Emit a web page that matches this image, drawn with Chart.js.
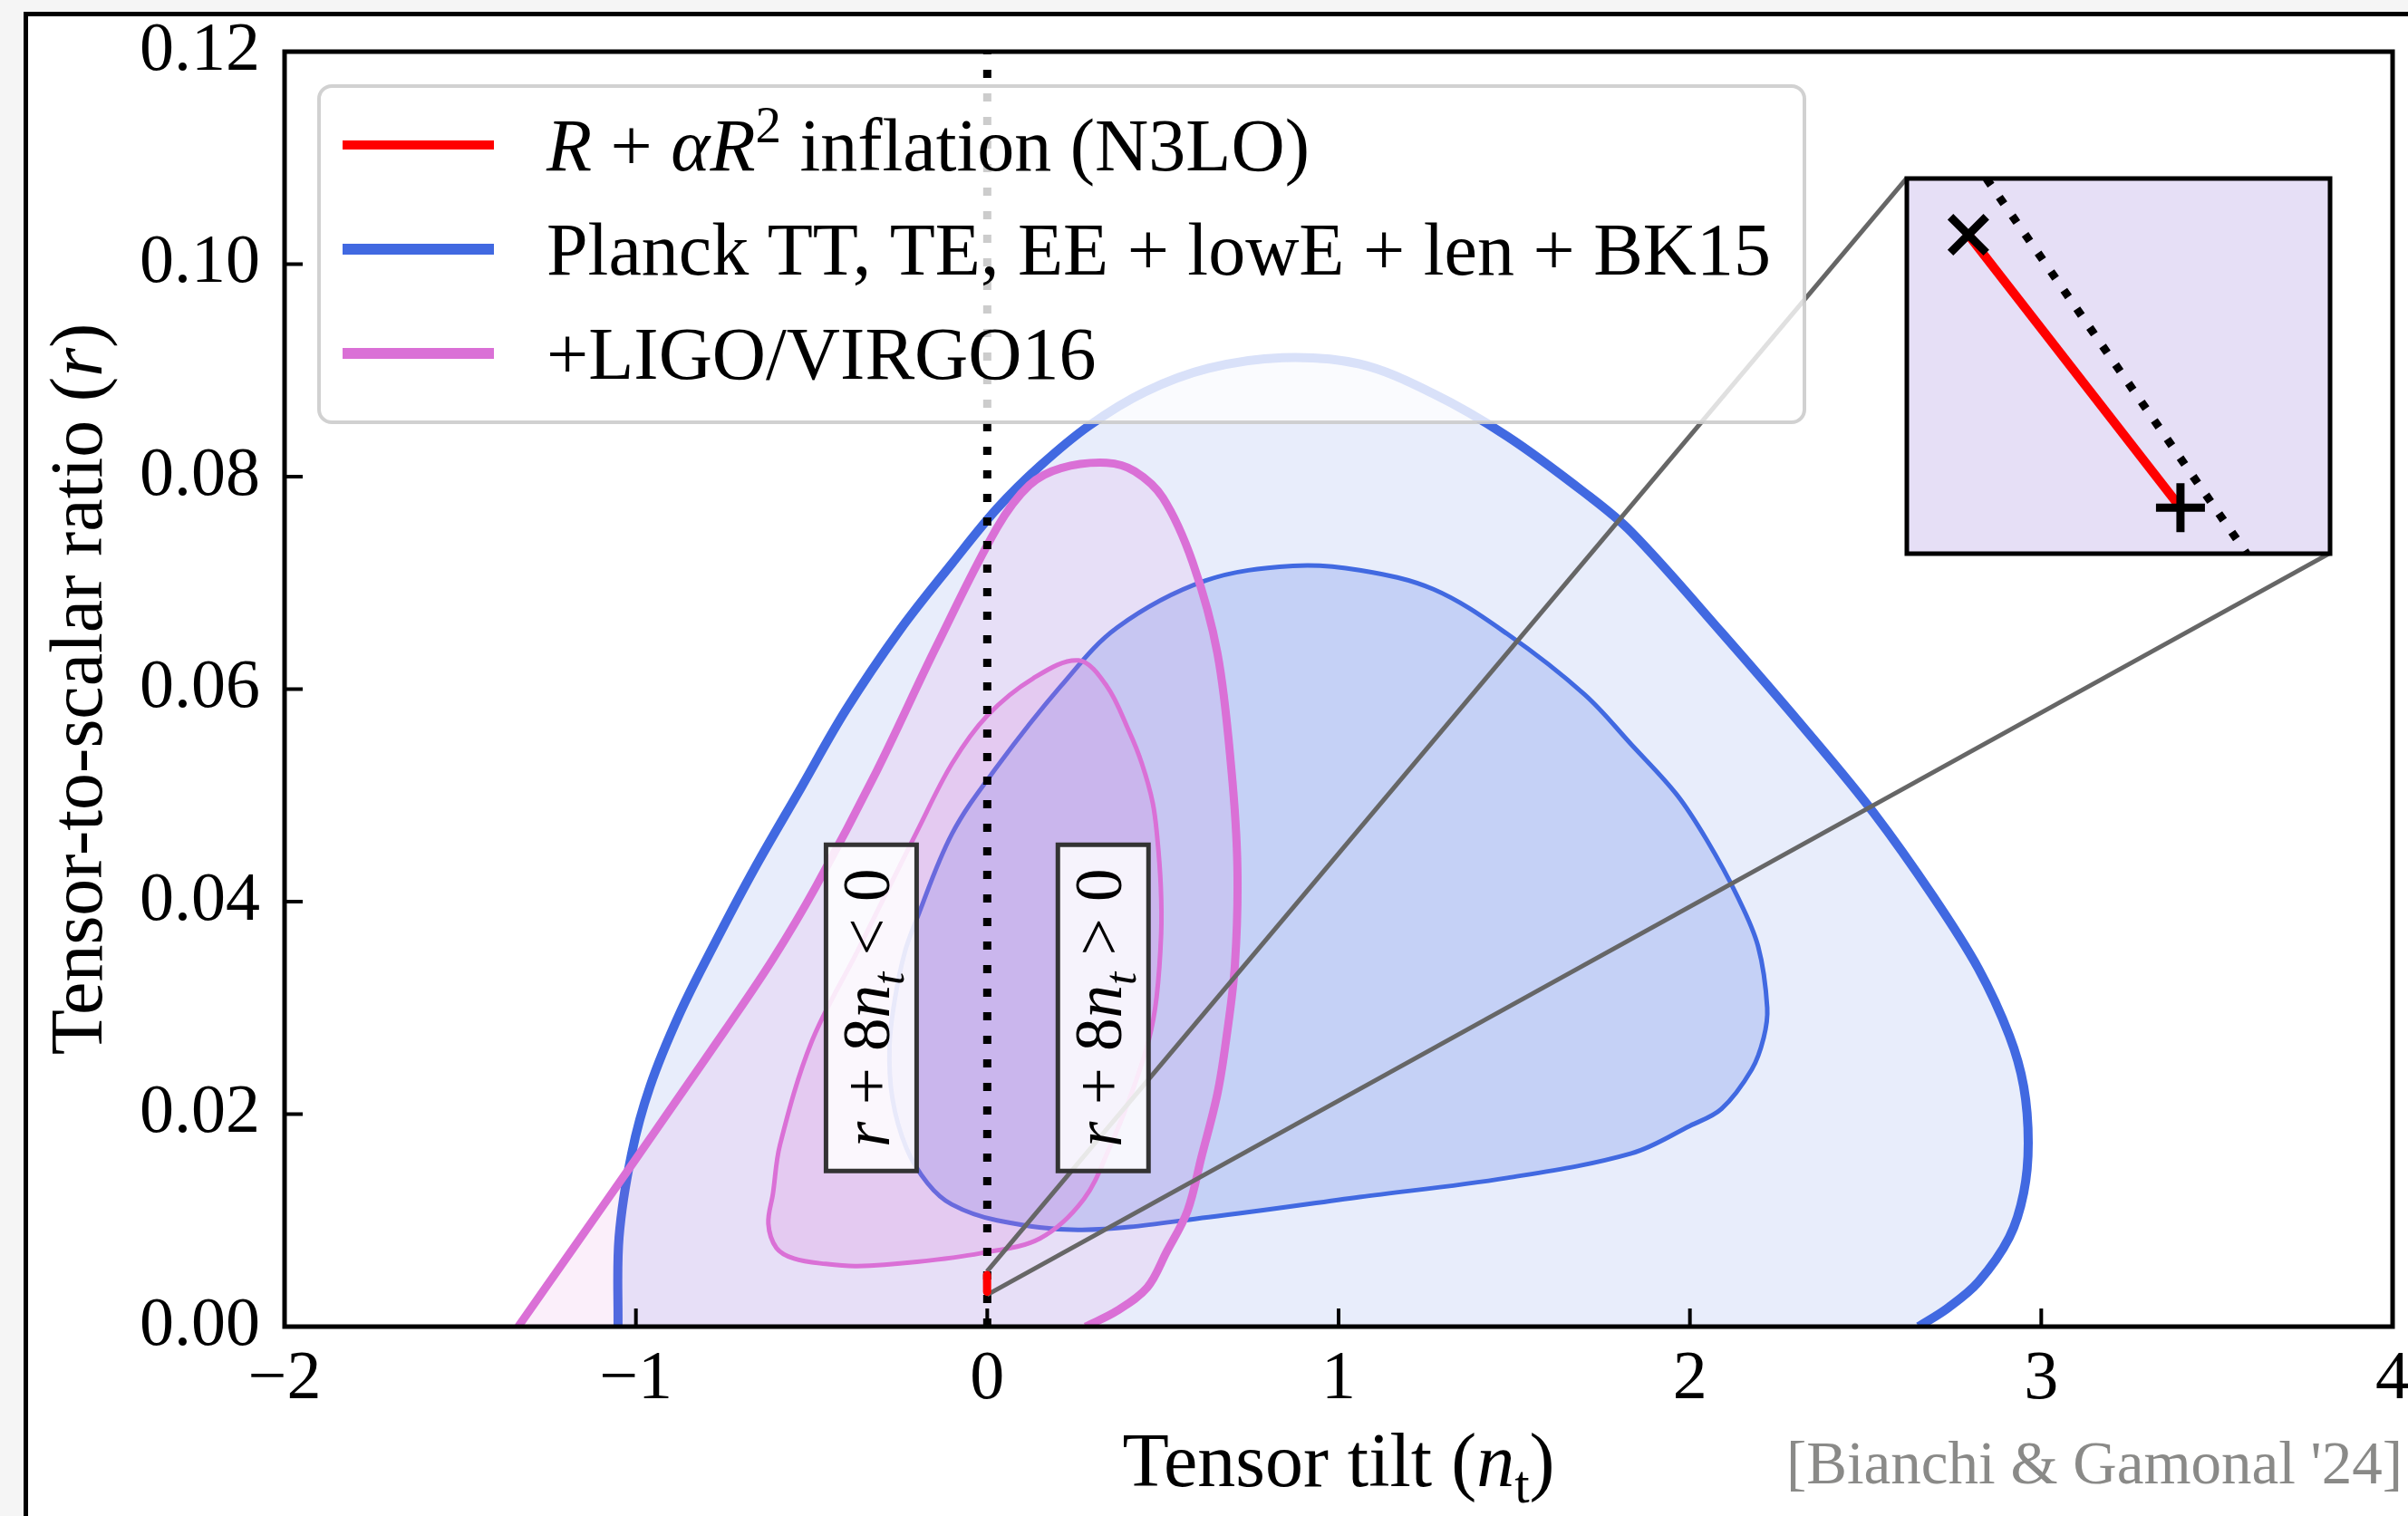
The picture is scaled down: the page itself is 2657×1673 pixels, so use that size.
<!DOCTYPE html>
<html>
<head>
<meta charset="utf-8">
<script src="https://cdn.jsdelivr.net/npm/chart.js@4.4.1/dist/chart.umd.min.js"></script>
<style>
  html, body { margin: 0; padding: 0; background: #f5f5f5; }
  #stage { position: relative; width: 2657px; height: 1673px; overflow: hidden; }
  #sheet { position: absolute; left: 26px; top: 13px; width: 2700px; height: 1700px;
           background: #fff; border-left: 5px solid #000; border-top: 5px solid #000; }
  #main { position: absolute; left: 0; top: 0; }
  #insetWrap { position: absolute; }
  #insetWrap canvas { display: block; }
</style>
</head>
<body>
<div id="stage">
  <div id="sheet"></div>
  <canvas id="main" width="2657" height="1673"></canvas>
  <div id="insetWrap"><canvas id="inset"></canvas></div>
</div>
<script>
const SERIF = '"Liberation Serif", "Times New Roman", serif';

// axis ticks
const xTicks = [-2, -1, 0, 1, 2, 3, 4];
const yTicks = [0, 0.02, 0.04, 0.06, 0.08, 0.10, 0.12];

// Planck TT,TE,EE+lowE+lensing+BK15, outer (95%) contour, cut at r = 0
const planckOuterNt = [-1.051, -1.048, -1.012, -0.96, -0.875, -0.772, -0.661, -0.532, -0.403, -0.25, -0.101, 0.028, 0.15, 0.29, 0.45, 0.63, 0.84, 1.06, 1.27, 1.48, 1.70, 1.833, 2.091, 2.349, 2.522, 2.692, 2.821, 2.909, 2.95, 2.963, 2.95, 2.909, 2.821, 2.736, 2.651];
const planckOuterR = [0, 0.0084, 0.0163, 0.0226, 0.0295, 0.0363, 0.0432, 0.0506, 0.0580, 0.0655, 0.0718, 0.0770, 0.0810, 0.0848, 0.0880, 0.0902, 0.0912, 0.0906, 0.0878, 0.0838, 0.0785, 0.0748, 0.0653, 0.0554, 0.0484, 0.0405, 0.0337, 0.0274, 0.0226, 0.0173, 0.0126, 0.0084, 0.0042, 0.0018, 0];

// Planck inner (68%) contour, closed
const planckInnerNt = [1.06, 0.63, 0.27, 0.028, -0.101, -0.17, -0.23, -0.27, -0.278, -0.262, -0.235, -0.205, -0.10, 0.028, 0.21, 0.37, 0.62, 0.87, 1.06, 1.27, 1.48, 1.70, 1.833, 1.962, 2.048, 2.135, 2.194, 2.22, 2.21, 2.176, 2.09, 2.0, 1.833, 1.48, 1.06];
const planckInnerR = [0.0122, 0.0103, 0.0091, 0.0100, 0.0115, 0.0135, 0.0168, 0.0215, 0.0265, 0.0310, 0.0352, 0.0380, 0.0464, 0.0527, 0.0603, 0.0658, 0.0702, 0.0716, 0.0712, 0.0694, 0.0652, 0.0595, 0.0548, 0.0501, 0.0458, 0.0405, 0.0358, 0.0300, 0.0272, 0.0242, 0.0205, 0.0189, 0.0163, 0.0140, 0.0122];

// + LIGO/VIRGO16, outer contour, cut at r = 0
const ligoOuterNt = [-1.335, -1.18, -1.004, -0.88, -0.746, -0.61, -0.488, -0.316, -0.145, 0.028, 0.12, 0.21, 0.34, 0.42, 0.50, 0.585, 0.655, 0.695, 0.712, 0.705, 0.68, 0.655, 0.61, 0.57, 0.51, 0.456, 0.37, 0.28];
const ligoOuterR = [0, 0.0073, 0.0156, 0.0215, 0.0279, 0.0346, 0.0414, 0.0522, 0.0640, 0.0752, 0.0792, 0.0808, 0.0813, 0.0805, 0.0780, 0.0719, 0.0634, 0.0524, 0.0432, 0.0341, 0.0270, 0.0219, 0.0160, 0.0109, 0.0070, 0.0037, 0.0015, 0];

// + LIGO/VIRGO16, inner contour, closed
const ligoInnerNt = [-0.37, -0.50, -0.59, -0.61, -0.623, -0.60, -0.55, -0.46, -0.37, -0.20, -0.02, 0.15, 0.275, 0.35, 0.41, 0.46, 0.482, 0.495, 0.494, 0.484, 0.471, 0.44, 0.404, 0.34, 0.26, 0.13, 0.0, -0.10, -0.20, -0.37];
const ligoInnerR = [0.0353, 0.0268, 0.0171, 0.0125, 0.0097, 0.0074, 0.0064, 0.0059, 0.0057, 0.0061, 0.0069, 0.0083, 0.0120, 0.0170, 0.0219, 0.0270, 0.0310, 0.0370, 0.0414, 0.0460, 0.0493, 0.0530, 0.0560, 0.0603, 0.0627, 0.0610, 0.0575, 0.0530, 0.0466, 0.0353];

// R + alpha R^2 (N3LO) prediction, end points
const modelNt = [-0.000669, -0.000445];
const modelR = [0.00487, 0.00327];

// r + 8 n_t = 0 across the zoomed window
const consistNt = [-0.00065, -0.000375];
const consistR = [0.0052, 0.0030];

const legendLabels = ['R + \u03b1R\u00b2 inflation (N3LO)', 'Planck TT, TE, EE + lowE + len + BK15', '+LIGO/VIRGO16'];

// layout: zoomed window, and where the inset sits (in main-axis units)
const zoomWin = { x0: -0.000734, x1: -0.000287, y0: 0.0030, y1: 0.0052 };
const insetAt = { x0: 2.617, x1: 3.822, y0: 0.0728, y1: 0.1081 };

const BLUE = '#4169e1', ORCHID = '#da70d6', RED = '#ff0000';
const fills = {
    blueOuter: 'rgba(65,105,225,0.12)',
    blueInner: 'rgba(65,105,225,0.21)',
    pinkOuter: 'rgba(218,112,214,0.11)',
    pinkInner: 'rgba(218,112,214,0.18)'
};

const pts = (xs, ys) => xs.map((x, i) => ({ x, y: ys[i] }));

const contour = (label, xs, ys, color, width, fill, order) => ({
    label,
    data: pts(xs, ys),
    borderColor: color,
    borderWidth: width,
    borderJoinStyle: 'round',
    fillShape: fill,
    fill: false,
    tension: 0.35,
    pointRadius: 0,
    order
});

// ---- rich text (italic / sub / sup pieces) ----
const fontOf = (size, italic) => (italic ? 'italic ' : '') + size + 'px ' + SERIF;

function richLayout(ctx, parts, size) {
    let w = 0;
    const items = parts.map(([text, style = '']) => {
        const small = style.includes('sub') || style.includes('sup');
        ctx.font = fontOf(small ? Math.round(size * 0.7) : size, style.startsWith('i'));
        const dy = style.includes('sub') ? size * 0.22 : style.includes('sup') ? -size * 0.38 : 0;
        const item = { text, font: ctx.font, x: w, dy };
        w += ctx.measureText(text).width;
        return item;
    });
    return { items, width: w };
}

function drawRich(ctx, parts, x, y, size, align) {
    const { items, width } = richLayout(ctx, parts, size);
    const x0 = align === 'center' ? x - width / 2 : align === 'right' ? x - width : x;
    ctx.textAlign = 'left';
    ctx.textBaseline = 'alphabetic';
    items.forEach(it => {
        ctx.font = it.font;
        ctx.fillText(it.text, x0 + it.x, y + it.dy);
    });
}

const legendParts = [
    [['R', 'i'], [' + '], ['\u03b1', 'i'], ['R', 'i'], ['2', 'sup'], [' inflation (N3LO)']],
    [['Planck TT, TE, EE + lowE + len + BK15']],
    [['+LIGO/VIRGO16']]
];
const xTitle = [['Tensor tilt ('], ['n', 'i'], ['t', 'sub'], [')']];
const yTitle = [['Tensor-to-scalar ratio ('], ['r', 'i'], [')']];
const boxTexts = [
    { x: -0.33, y: 0.03, parts: [['r', 'i'], [' + 8'], ['n', 'i'], ['t', 'isub'], [' < 0']] },
    { x: 0.33, y: 0.03, parts: [['r', 'i'], [' + 8'], ['n', 'i'], ['t', 'isub'], [' > 0']] }
];

// fill each contour with its own path before its line is stroked
const shapeFill = {
    id: 'shapeFill',
    beforeDatasetDraw(chart, args) {
        const ds = chart.data.datasets[args.index];
        if (!ds.fillShape) return;
        const line = args.meta.dataset;
        const { ctx, chartArea: a } = chart;
        if (line.updateControlPoints) line.updateControlPoints(a, 'x');
        ctx.save();
        ctx.beginPath();
        ctx.rect(a.left, a.top, a.width, a.height);
        ctx.clip();
        ctx.beginPath();
        line.path(ctx);
        ctx.closePath();
        ctx.fillStyle = ds.fillShape;
        ctx.fill();
        ctx.restore();
    }
};

const decor = {
    id: 'decor',
    afterDatasetsDraw(chart) {
        const { ctx, chartArea: a, scales: { x, y } } = chart;
        ctx.save();

        // inward ticks and frame
        ctx.strokeStyle = '#000';
        ctx.lineWidth = 4;
        ctx.beginPath();
        x.ticks.forEach(t => {
            const px = x.getPixelForValue(t.value);
            ctx.moveTo(px, a.bottom);
            ctx.lineTo(px, a.bottom - 20);
        });
        y.ticks.forEach(t => {
            const py = y.getPixelForValue(t.value);
            ctx.moveTo(a.left, py);
            ctx.lineTo(a.left + 20, py);
        });
        ctx.stroke();
        ctx.lineWidth = 5;
        ctx.strokeRect(a.left, a.top, a.width, a.height);

        // rotated boxed labels
        boxTexts.forEach(b => {
            ctx.save();
            ctx.translate(x.getPixelForValue(b.x), y.getPixelForValue(b.y));
            ctx.rotate(-Math.PI / 2);
            ctx.fillStyle = 'rgba(255,255,255,0.85)';
            ctx.fillRect(-180, -50, 360, 100);
            ctx.strokeStyle = '#333';
            ctx.lineWidth = 5;
            ctx.strokeRect(-180, -50, 360, 100);
            ctx.fillStyle = '#000';
            drawRich(ctx, b.parts, 0, 20, 73, 'center');
            ctx.restore();
        });

        // legend
        const lx = a.left + 38, ly = a.top + 38, lw = 1639, lh = 371;
        ctx.beginPath();
        ctx.roundRect(lx, ly, lw, lh, 14);
        ctx.fillStyle = 'rgba(255,255,255,0.8)';
        ctx.fill();
        ctx.strokeStyle = 'rgba(204,204,204,0.9)';
        ctx.lineWidth = 4;
        ctx.stroke();
        const rows = [
            { color: RED, width: 10 },
            { color: BLUE, width: 12 },
            { color: ORCHID, width: 12 }
        ];
        rows.forEach((row, i) => {
            const cy = ly + 65 + i * 115;
            ctx.strokeStyle = row.color;
            ctx.lineWidth = row.width;
            ctx.beginPath();
            ctx.moveTo(lx + 26, cy);
            ctx.lineTo(lx + 193, cy);
            ctx.stroke();
            ctx.fillStyle = '#000';
            drawRich(ctx, legendParts[i], lx + 251, cy + 28, 82, 'left');
        });
        ctx.restore();
    },
    afterDraw(chart) {
        const { ctx, chartArea: a } = chart;
        ctx.save();
        ctx.fillStyle = '#000';
        drawRich(ctx, xTitle, (a.left + a.right) / 2, 1640, 84, 'center');
        ctx.translate(112, (a.top + a.bottom) / 2);
        ctx.rotate(-Math.PI / 2);
        drawRich(ctx, yTitle, 0, 0, 82, 'center');
        ctx.restore();
        ctx.save();
        ctx.fillStyle = '#8a8a88';
        ctx.font = '67px ' + SERIF;
        ctx.textAlign = 'right';
        ctx.textBaseline = 'alphabetic';
        ctx.fillText("[Bianchi & Gamonal '24]", 2651, 1637);
        ctx.restore();
    }
};

const tickFont = { family: SERIF, size: 76 };

const mainChart = new Chart(document.getElementById('main'), {
    type: 'line',
    data: {
        datasets: [
            contour(legendLabels[1], planckOuterNt, planckOuterR, BLUE, 10, fills.blueOuter, 10),
            contour(legendLabels[1], planckInnerNt, planckInnerR, BLUE, 5, fills.blueInner, 9),
            contour(legendLabels[2], ligoOuterNt, ligoOuterR, ORCHID, 9, fills.pinkOuter, 8),
            contour(legendLabels[2], ligoInnerNt, ligoInnerR, ORCHID, 5, fills.pinkInner, 7),
            {
                label: 'n_t = 0',
                data: [{ x: 0, y: 0 }, { x: 0, y: 0.12 }],
                borderColor: '#000', borderWidth: 9, borderDash: [9, 17],
                pointRadius: 0, tension: 0, order: 6
            },
            {
                label: 'zoom',
                data: [{ x: zoomWin.x0, y: zoomWin.y1 }, { x: insetAt.x0, y: insetAt.y1 }],
                borderColor: '#666', borderWidth: 5, pointRadius: 0, tension: 0, order: 5
            },
            {
                label: 'zoom',
                data: [{ x: zoomWin.x1, y: zoomWin.y0 }, { x: insetAt.x1, y: insetAt.y0 }],
                borderColor: '#666', borderWidth: 5, pointRadius: 0, tension: 0, order: 5
            },
            {
                label: legendLabels[0],
                data: pts(modelNt, modelR),
                borderColor: RED, borderWidth: 9, borderCapStyle: 'round',
                pointRadius: 0, tension: 0, order: 4
            }
        ]
    },
    options: {
        responsive: false,
        animation: false,
        events: [],
        layout: { autoPadding: false, padding: { left: 0, top: 57, right: 17, bottom: 0 } },
        plugins: { legend: { display: false }, tooltip: { enabled: false } },
        scales: {
            x: {
                type: 'linear', min: -2, max: 4,
                grid: { display: false, drawTicks: false }, border: { display: false },
                afterBuildTicks: s => { s.ticks = xTicks.map(v => ({ value: v })); },
                afterFit: s => { s.height = 209; s.paddingLeft = 0; s.paddingRight = 0; },
                ticks: {
                    font: tickFont, color: '#000', padding: 13, maxRotation: 0, autoSkip: false,
                    callback: v => v < 0 ? '\u2212' + Math.abs(v) : String(v)
                }
            },
            y: {
                type: 'linear', min: 0, max: 0.12,
                grid: { display: false, drawTicks: false }, border: { display: false },
                afterBuildTicks: s => { s.ticks = yTicks.map(v => ({ value: v })); },
                afterFit: s => { s.width = 314; s.paddingTop = 0; s.paddingBottom = 0; },
                ticks: {
                    font: tickFont, color: '#000', padding: 27, autoSkip: false,
                    callback: v => v.toFixed(2)
                }
            }
        }
    },
    plugins: [shapeFill, decor]
});

// ---- inset: zoom on the model prediction ----
const insetBg = {
    id: 'insetBg',
    beforeDatasetsDraw(chart) {
        const { ctx, chartArea: a } = chart;
        ctx.save();
        [ '#fff', fills.blueOuter, fills.pinkOuter ].forEach(c => {
            ctx.fillStyle = c;
            ctx.fillRect(a.left, a.top, a.width, a.height);
        });
        ctx.restore();
    },
    afterDatasetsDraw(chart) {
        const { ctx, chartArea: a } = chart;
        ctx.save();
        ctx.strokeStyle = '#000';
        ctx.lineWidth = 5;
        ctx.strokeRect(a.left, a.top, a.width, a.height);
        ctx.restore();
    }
};

const sx = mainChart.scales.x, sy = mainChart.scales.y;
const iL = sx.getPixelForValue(insetAt.x0), iR = sx.getPixelForValue(insetAt.x1);
const iT = sy.getPixelForValue(insetAt.y1), iB = sy.getPixelForValue(insetAt.y0);
const pad = 8;
const wrap = document.getElementById('insetWrap');
wrap.style.left = Math.round(iL - pad) + 'px';
wrap.style.top = Math.round(iT - pad) + 'px';
const insetCanvas = document.getElementById('inset');
insetCanvas.width = Math.round(iR - iL + 2 * pad);
insetCanvas.height = Math.round(iB - iT + 2 * pad);

new Chart(insetCanvas, {
    type: 'line',
    data: {
        datasets: [
            {
                label: legendLabels[0],
                data: pts(modelNt, modelR),
                borderColor: RED, borderWidth: 10, tension: 0,
                pointStyle: ['crossRot', 'cross'], pointRadius: [28, 27],
                pointBorderWidth: 9, pointBorderColor: '#000', pointBackgroundColor: '#000',
                order: 1
            },
            {
                label: 'r + 8 n_t = 0',
                data: pts(consistNt, consistR),
                borderColor: '#000', borderWidth: 9, borderDash: [9, 16],
                pointRadius: 0, tension: 0, order: 2
            }
        ]
    },
    options: {
        responsive: false,
        animation: false,
        events: [],
        layout: { autoPadding: false, padding: pad },
        plugins: { legend: { display: false }, tooltip: { enabled: false } },
        scales: {
            x: { type: 'linear', display: false, min: zoomWin.x0, max: zoomWin.x1 },
            y: { type: 'linear', display: false, min: zoomWin.y0, max: zoomWin.y1 }
        }
    },
    plugins: [insetBg]
});
</script>
</body>
</html>
